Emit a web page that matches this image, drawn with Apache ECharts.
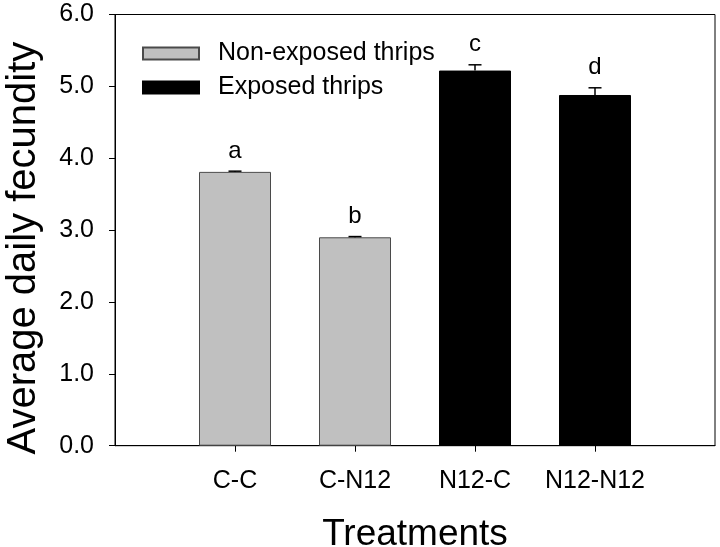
<!DOCTYPE html>
<html>
<head>
<meta charset="utf-8">
<script src="https://cdn.jsdelivr.net/npm/echarts@6/dist/echarts.min.js"></script>
<style>html,body{margin:0;padding:0;background:#fff;}#c{width:720px;height:547px;}</style>
</head>
<body>
<div id="c"></div>
<script>
const categories = ['C-C', 'C-N12', 'N12-C', 'N12-N12'];
const nonExposed = [3.81, 2.90, null, null];
const exposed = [null, null, 5.22, 4.88];
const errors = [0.01, 0.01, 0.08, 0.10];
const letters = ['a', 'b', 'c', 'd'];
const seriesNames = ['Non-exposed thrips', 'Exposed thrips'];

const FONT = 'Liberation Sans, Arial, sans-serif';
const toPts = arr => arr.map((v, i) => v == null ? null : [i + 1, v]).filter(d => d);
const means = categories.map((c, i) => nonExposed[i] != null ? nonExposed[i] : exposed[i]);

const chart = echarts.init(document.getElementById('c'), null, {renderer: 'canvas'});
chart.setOption({
  animation: false,
  backgroundColor: '#fff',
  grid: {left: 115, right: 5, top: 14.5, bottom: 101.3, show: true, borderColor: '#000', borderWidth: 1, containLabel: false, outerBoundsMode: 'none'},
  legend: {
    data: seriesNames,
    left: 137, top: 36, orient: 'vertical', icon: 'rect',
    itemWidth: 56, itemHeight: 12, itemGap: 9,
    textStyle: {fontFamily: FONT, fontSize: 25, color: '#000', lineHeight: 24, padding: [0, 0, 0, 14]}
  },
  xAxis: {
    type: 'value', min: 0, max: 5, interval: 1,
    splitLine: {show: false},
    axisLine: {show: true, lineStyle: {color: '#000', width: 1}},
    axisTick: {show: true, customValues: [1, 2, 3, 4], length: 6, lineStyle: {color: '#000'}},
    axisLabel: {customValues: [1, 2, 3, 4], formatter: v => categories[v - 1] || '', fontFamily: FONT, fontSize: 25, color: '#000', margin: 23},
    name: 'Treatments', nameLocation: 'middle', nameGap: 71,
    nameTextStyle: {fontFamily: FONT, fontSize: 37, color: '#000'}
  },
  yAxis: {
    type: 'value', min: 0, max: 6, interval: 1,
    splitLine: {show: false},
    axisLine: {show: true, lineStyle: {color: '#000', width: 1}},
    axisTick: {show: true, inside: false, length: 6, lineStyle: {color: '#000'}},
    axisLabel: {formatter: v => v.toFixed(1), fontFamily: FONT, fontSize: 25, color: '#000', margin: 21},
    name: 'Average daily fecundity', nameLocation: 'middle', nameGap: 71,
    nameTextStyle: {fontFamily: FONT, fontSize: 40, color: '#000', padding: [0, 36, 0, 0]}
  },
  series: [
    {
      name: seriesNames[0], type: 'bar', barWidth: 72, barGap: '-100%',
      data: toPts(nonExposed),
      itemStyle: {color: '#c0c0c0', borderColor: '#4a4a4a', borderWidth: 1}
    },
    {
      name: seriesNames[1], type: 'bar', barWidth: 72, barGap: '-100%',
      data: toPts(exposed),
      itemStyle: {color: '#000', borderColor: '#000', borderWidth: 1}
    },
    {
      name: 'err', type: 'custom', z: 10,
      data: categories.map((c, i) => [i + 1, means[i], errors[i]]),
      renderItem: (params, api) => {
        const x = api.value(0), m = api.value(1), e = api.value(2);
        const p0 = api.coord([x, m]);
        const p1 = api.coord([x, m + e]);
        const cap = 6.5;
        return {
          type: 'group',
          children: [
            {type: 'line', shape: {x1: p0[0], y1: p0[1], x2: p1[0], y2: p1[1]}, style: {stroke: '#000', lineWidth: 1.5}},
            {type: 'line', shape: {x1: p1[0] - cap, y1: p1[1], x2: p1[0] + cap, y2: p1[1]}, style: {stroke: '#000', lineWidth: 1.5}},
            {type: 'text', x: p1[0], y: p1[1] - 8, style: {text: letters[params.dataIndex], fontFamily: FONT, fontSize: 24, fill: '#000', align: 'center', verticalAlign: 'bottom'}}
          ]
        };
      }
    }
  ]
});
</script>
</body>
</html>
